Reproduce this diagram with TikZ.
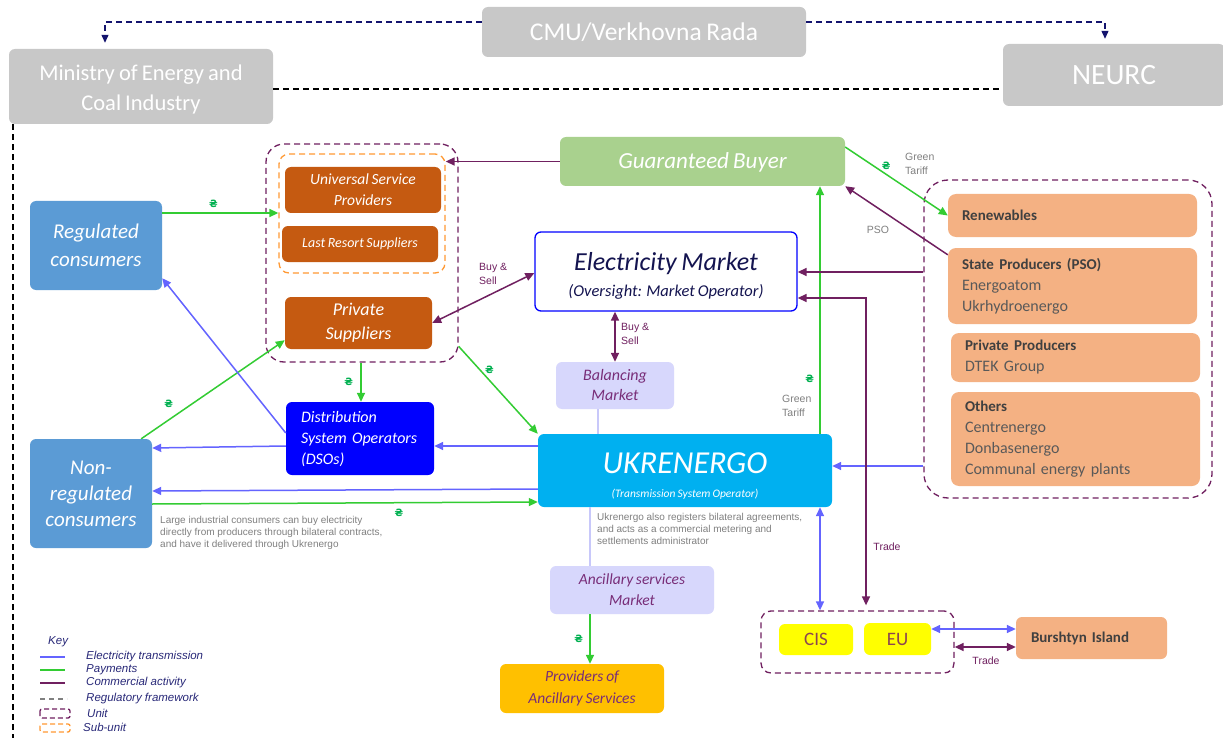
\documentclass[tikz,border=0pt]{standalone}
\usepackage{fontspec}
\setmainfont{Carlito}[WordSpace=0.8]
\newfontfamily\arialfont{Liberation Sans}
\newfontfamily\symbfont{DejaVu Sans}
\usetikzlibrary{arrows.meta,positioning}

\definecolor{govgrey}{RGB}{200,200,200}
\definecolor{gbgreen}{RGB}{169,209,142}
\definecolor{supbrown}{RGB}{197,90,17}
\definecolor{consblue}{RGB}{91,155,213}
\definecolor{dsoblue}{RGB}{0,0,255}
\definecolor{ukrblue}{RGB}{0,176,240}
\definecolor{lav}{RGB}{215,215,252}
\definecolor{lavline}{RGB}{200,200,250}
\definecolor{lavtext}{RGB}{120,45,120}
\definecolor{provorange}{RGB}{255,192,0}
\definecolor{prodpeach}{RGB}{244,177,131}
\definecolor{cisyellow}{RGB}{255,255,0}
\definecolor{cistext}{RGB}{140,70,80}
\definecolor{elblue}{RGB}{100,100,255}
\definecolor{paygreen}{RGB}{51,204,51}
\definecolor{commpurple}{RGB}{112,32,96}
\definecolor{navyline}{RGB}{20,20,110}
\definecolor{uahgreen}{RGB}{0,176,80}
\definecolor{notegrey}{RGB}{128,128,128}
\definecolor{keytext}{RGB}{40,40,120}
\definecolor{emtext}{RGB}{20,20,80}
\definecolor{subdash}{RGB}{255,153,51}
\definecolor{headtext}{RGB}{64,64,64}
\definecolor{itemtext}{RGB}{89,89,89}

\newcommand{\uah}{{\symbfont\bfseries\fontsize{10}{12}\selectfont\color{uahgreen}₴}}

\begin{document}
\begin{tikzpicture}[x=1pt,y=-1pt,
    box/.style={rounded corners=6pt, inner sep=2pt, align=center, text=white, font=\itshape},
    govbox/.style={rounded corners=6pt, fill=govgrey, text=white, align=center},
    unitbox/.style={draw=commpurple, line width=1.3pt, dash pattern=on 6pt off 4pt, rounded corners=18pt},
    subunitbox/.style={draw=subdash, line width=1.3pt, dash pattern=on 6pt off 4pt, rounded corners=10pt},
    prodbox/.style={rounded corners=8pt, fill=prodpeach, inner xsep=14pt, align=left, text=itemtext, font=\fontsize{16}{21}\selectfont},
    elec/.style={draw=elblue, line width=1.5pt, >={Triangle[length=9pt,width=8pt]}, ->},
    pay/.style={draw=paygreen, line width=1.5pt, >={Triangle[length=9pt,width=8pt]}, ->},
    comm/.style={draw=commpurple, line width=1.5pt, >={Triangle[length=9pt,width=8pt]}, ->},
    regul/.style={draw=black, line width=1.2pt, dash pattern=on 6pt off 4pt},
    govarrow/.style={draw=navyline, line width=1.2pt, dash pattern=on 6pt off 4pt, >={Triangle[length=8pt,width=7pt]}, ->},
    note/.style={font=\arialfont\fontsize{10}{12}\selectfont, text=notegrey, align=left, inner sep=0pt},
    small/.style={font=\arialfont\fontsize{10.5}{14}\selectfont, align=left, inner sep=0pt},
    keyitem/.style={font=\arialfont\itshape\fontsize{11.5}{13}\selectfont, text=keytext, anchor=west, inner sep=0pt}]

    \fill[white] (0,0) rectangle (1223,738); % background
    \useasboundingbox (0,0) rectangle (1223,738); % page size

    % government level
    \node[govbox, minimum width=324, minimum height=50, font=\fontsize{25.5}{30}\selectfont] (cmu) at (644,32) {CMU/Verkhovna Rada}; % cabinet and parliament
    \node[govbox, minimum width=264, minimum height=75, font=\fontsize{22.5}{30}\selectfont] (ministry) at (141,86.5) {\rule{0pt}{21pt}Ministry of Energy and\\Coal Industry}; % ministry
    \node[govbox, minimum width=222, minimum height=62, font=\fontsize{29.5}{30}\selectfont] (neurc) at (1114,75) {NEURC}; % regulator

    % suppliers unit
    \node[unitbox, minimum width=192, minimum height=218] (supunit) at (362,253) {}; % dashed unit round suppliers
    \node[subunitbox, minimum width=166, minimum height=119] (subunit) at (362,213.5) {}; % dashed sub-unit
    \node[box, fill=supbrown, minimum width=156, minimum height=46, font=\itshape\fontsize{15.5}{21}\selectfont] (usp) at (363,190) {Universal Service\\Providers}; % universal service
    \node[box, fill=supbrown, minimum width=156, minimum height=36, font=\itshape\fontsize{14}{17}\selectfont] (lrs) at (360,244) {Last Resort Suppliers}; % last resort
    \node[box, fill=supbrown, minimum width=147, minimum height=52, font=\itshape\fontsize{18}{24}\selectfont] (priv) at (358.5,323) {Private\\Suppliers}; % private suppliers

    % consumers and operators
    \node[box, fill=consblue, minimum width=132, minimum height=89, font=\itshape\fontsize{21}{28}\selectfont] (reg) at (96,245.5) {Regulated\\consumers}; % regulated consumers
    \node[box, fill=consblue, minimum width=122, minimum height=109, font=\itshape\fontsize{21}{26}\selectfont] (nonreg) at (91,493.5) {Non-\\regulated\\consumers}; % non-regulated consumers
    \node[box, fill=dsoblue, minimum width=148, minimum height=73, align=left, text width=118, font=\itshape\fontsize{16}{21}\selectfont] (dso) at (360,438.5) {\rule{0pt}{13pt}Distribution\\System Operators\\(DSOs)}; % DSOs
    \node[box, fill=gbgreen, minimum width=285, minimum height=49, font=\itshape\fontsize{23}{26}\selectfont] (gb) at (702.5,161.5) {\rule{0pt}{18pt}Guaranteed Buyer}; % guaranteed buyer
    \node[box, draw=dsoblue, line width=1.3pt, fill=white, text=emtext, minimum width=262, minimum height=79, font=\itshape\fontsize{26}{26}\selectfont] (em) at (666,271.5) {\rule{0pt}{27pt}Electricity Market\\{\fontsize{16.5}{20}\selectfont (Oversight: Market Operator)}}; % market
    \node[box, fill=lav, text=lavtext, minimum width=118, minimum height=47, font=\itshape\fontsize{16}{20}\selectfont] (bal) at (615,385.5) {Balancing\\Market}; % balancing market
    \node[box, fill=ukrblue, minimum width=294, minimum height=73, font=\itshape\fontsize{32}{24}\selectfont] (ukr) at (685,470.5) {\rule{0pt}{31pt}UKRENERGO\\{\fontsize{11.5}{14}\selectfont (Transmission System Operator)}}; % TSO
    \node[box, fill=lav, text=lavtext, minimum width=164, minimum height=48, font=\itshape\fontsize{15.5}{21}\selectfont] (anc) at (632,590) {Ancillary services\\Market}; % ancillary market
    \node[box, fill=provorange, text=lavtext, minimum width=164, minimum height=49, font=\itshape\fontsize{15.5}{22}\selectfont] (prov) at (582,688.5) {Providers of\\Ancillary Services}; % providers

    % producers unit
    \node[unitbox, minimum width=288, minimum height=318, rounded corners=24pt] (produnit) at (1068,339) {}; % dashed unit round producers
    \node[prodbox, minimum width=249, minimum height=43, text width=221, text=headtext, font=\bfseries\fontsize{15}{21}\selectfont] (ren) at (1072.5,215.5) {Renewables}; % renewables
    \node[prodbox, minimum width=249, minimum height=76, text width=221] (state) at (1072.5,286) {{\bfseries\color{headtext}\fontsize{15}{21}\selectfont State Producers (PSO)}\\Energoatom\\Ukrhydroenergo}; % state producers
    \node[prodbox, minimum width=249, minimum height=49, text width=221] (privprod) at (1075.5,357.5) {{\bfseries\color{headtext}\fontsize{15}{21}\selectfont Private Producers}\\DTEK Group}; % private producers
    \node[prodbox, minimum width=249, minimum height=94, text width=221] (others) at (1075.5,439) {{\bfseries\color{headtext}\fontsize{15}{21}\selectfont Others}\\Centrenergo\\Donbasenergo\\Communal energy plants}; % others

    % cross-border
    \node[unitbox, minimum width=193, minimum height=62, rounded corners=10pt] (cisunit) at (857.5,642) {}; % dashed unit round CIS/EU
    \node[box, fill=cisyellow, text=cistext, minimum width=74, minimum height=31, font=\fontsize{19}{22}\selectfont] (cis) at (816,639.5) {CIS}; % CIS
    \node[box, fill=cisyellow, text=cistext, minimum width=67, minimum height=32, font=\fontsize{19}{22}\selectfont] (eu) at (897.5,639) {EU}; % EU
    \node[box, fill=prodpeach, text=headtext, minimum width=151, minimum height=42, text width=121, align=left, inner xsep=15pt, font=\bfseries\fontsize{15}{18}\selectfont] (bur) at (1091.5,638) {Burshtyn Island}; % Burshtyn island

    % regulatory framework
    \draw[govarrow, shorten >=6pt] (cmu.west |- 0,22) -| (105,0 |- ministry.north); % CMU to ministry
    \draw[govarrow, shorten >=5pt] (cmu.east |- 0,22) -| (1105,0 |- neurc.north); % CMU to NEURC
    \draw[regul] (ministry.east |- 0,89) -- (neurc.west |- 0,89); % ministry to NEURC
    \coordinate (regend) at (13,738); % bottom of the left line
    \draw[regul] (13,0 |- ministry.south) -- (regend); % ministry down the left side

    % payments
    \draw[pay] (reg.east |- 0,213) -- node[pos=0.44, above=1pt] {\uah} (subunit.west |- 0,213); % regulated pay suppliers
    \draw[pay] ([xshift=-11]nonreg.north east) -- node[pos=0.25, above left=2pt and 0pt] {\uah} ([yshift=9]priv.south west); % non-regulated pay private suppliers
    \draw[pay] (361,0 |- supunit.south) -- node[left=4pt] {\uah} (361,0 |- dso.north); % suppliers pay DSOs
    \draw[pay] (supunit.-44) -- node[pos=0.27, right=1pt] {\uah} (ukr.north west); % suppliers pay Ukrenergo
    \draw[pay] (nonreg.east |- 0,504) -- node[pos=0.64, below=2pt] {\uah} (ukr.west |- 0,502); % non-regulated pay Ukrenergo
    \draw[pay] (820,0 |- ukr.north) -- node[pos=0.22, left=2pt] {\uah} (820,0 |- gb.south); % Ukrenergo pays guaranteed buyer
    \draw[pay] (gb.east |- 0,147) -- node[pos=0.4, above=1pt] {\uah} (ren.west); % green tariff to renewables
    \draw[pay] (590,0 |- anc.south) -- node[left=3pt] {\uah} (590,0 |- prov.north); % ancillary services payment

    % electricity transmission
    \draw[elec] (dso.west |- 0,433) -- ([yshift=12]reg.south east); % DSOs to regulated
    \draw[elec] (dso.west |- 0,446) -- (nonreg.east |- 0,448); % DSOs to non-regulated
    \draw[elec] (ukr.west |- 0,446) -- (dso.east |- 0,446); % Ukrenergo to DSOs
    \draw[elec] (ukr.west |- 0,489) -- (nonreg.east |- 0,491); % Ukrenergo to non-regulated
    \draw[elec] (produnit.west |- 0,466) -- (ukr.east |- 0,466); % producers to Ukrenergo
    \draw[elec, <->] (820,0 |- ukr.south) -- (820,0 |- cisunit.north); % Ukrenergo and CIS/EU
    \draw[elec, <->] (eu.east |- 0,629) -- (bur.west |- 0,629); % EU and Burshtyn island

    % commercial activity
    \draw[comm] (gb.west) -- (gb.west -| subunit.east); % guaranteed buyer to suppliers
    \draw[comm, <->] (priv.east) -- (em.west |- 0,273); % private suppliers buy & sell
    \draw[comm, <->] (bal.north |- em.south) -- (bal.north); % balancing market buy & sell
    \draw[comm] ([yshift=-7]state.north west) -- (gb.south east); % PSO
    \draw[comm] (produnit.west |- 0,272) -- (em.east |- 0,272); % producers sell on the market
    \draw[comm, <->, shorten >=5pt] (em.east |- 0,298) -| (866,0 |- cisunit.north); % trade with CIS/EU
    \draw[comm, <->] (cisunit.east |- 0,647) -- (bur.west |- 0,647); % trade with Burshtyn island

    % plain links
    \draw[lavline, line width=1.2pt] (598,0 |- bal.south) -- (598,0 |- ukr.north); % balancing market to Ukrenergo
    \draw[lavline, line width=1.2pt] (590,0 |- ukr.south) -- (590,0 |- anc.north); % Ukrenergo to ancillary market

    % labels
    \node[small, text=commpurple, anchor=west] (bs1) at (479,274) {Buy \&\\Sell}; % buy & sell left
    \node[small, text=commpurple, anchor=west] (bs2) at (621,334) {Buy \&\\Sell}; % buy & sell below market
    \node[small, text=notegrey, anchor=west] (gt1) at (905,164) {Green\\Tariff}; % green tariff top
    \node[small, text=notegrey, anchor=west] (gt2) at (782,406) {Green\\Tariff}; % green tariff middle
    \node[small, text=notegrey] (pso) at (878,230) {PSO}; % PSO label
    \node[small, text=commpurple] (trade1) at (887,547) {Trade}; % trade label
    \node[small, text=commpurple] (trade2) at (986,661) {Trade}; % trade label
    \node[note, anchor=north west] (ncons) at (160,516) {Large industrial consumers can buy electricity\\directly from producers through bilateral contracts,\\and have it delivered through Ukrenergo}; % note on consumers
    \node[note, anchor=north west] (nukr) at (597,513) {Ukrenergo also registers bilateral agreements,\\and acts as a commercial metering and\\settlements administrator}; % note on Ukrenergo

    % key
    \node[keyitem] (key) at (48,642) {Key}; % key title
    \foreach \y/\col/\txt in {657/elblue/Electricity transmission, 670/paygreen/Payments, 683/commpurple/Commercial activity} {
        \draw[\col, line width=1.5pt] (40,\y) -- (65,\y); % key line
        \node[keyitem] at (86,\y) {\txt}; % key text
    }
    \draw[notegrey, line width=1.5pt, dash pattern=on 5pt off 4pt] (40,699) -- (67,699); % key regulatory
    \node[keyitem] at (86,699) {Regulatory framework}; % key text
    \draw[commpurple, line width=1.3pt, dash pattern=on 5pt off 3pt, rounded corners=2pt] (40,709) rectangle (70,718); % key unit
    \node[keyitem] at (87,713) {Unit}; % key text
    \draw[subdash, line width=1.3pt, dash pattern=on 5pt off 3pt, rounded corners=2pt] (40,724) rectangle (70,732); % key sub-unit
    \node[keyitem] at (83,727) {Sub-unit}; % key text
\end{tikzpicture}
\end{document}
